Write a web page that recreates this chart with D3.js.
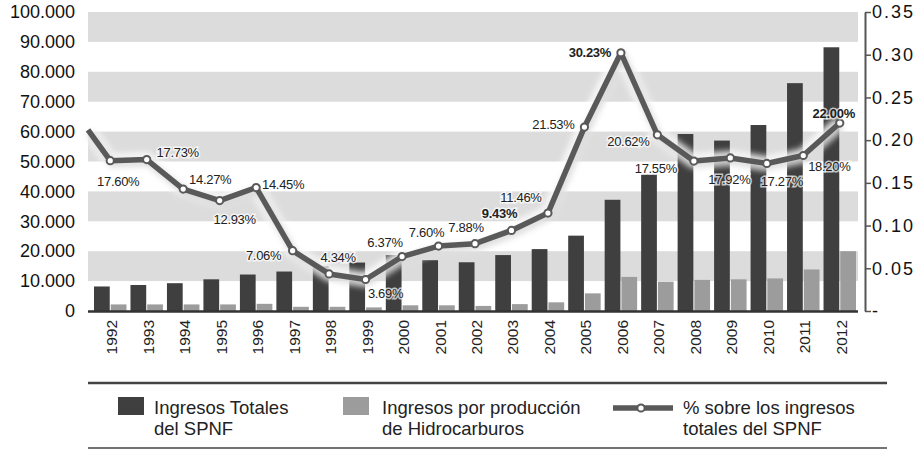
<!DOCTYPE html>
<html>
<head>
<meta charset="utf-8">
<script src="https://cdn.jsdelivr.net/npm/d3@7"></script>
<style>
  body { margin: 0; background: #fff; }
  svg { display: block; font-family: "Liberation Sans", Arial, sans-serif; }
  .lbl { font-size: 13px; fill: #222; paint-order: stroke; stroke: #fff; stroke-width: 3px; stroke-opacity: 0.7; letter-spacing: -0.3px; }
  .lbl.b { font-weight: bold; }
</style>
</head>
<body>
<div id="chart"></div>
<script>
// data
var years = ["1992","1993","1994","1995","1996","1997","1998","1999","2000","2001","2002",
             "2003","2004","2005","2006","2007","2008","2009","2010","2011","2012"];
var ingresosTotales = [8200, 8700, 9300, 10600, 12200, 13200, 15000, 16200, 18700, 17000, 16300,
                       18700, 20700, 25200, 37200, 45600, 59200, 57000, 62200, 76200, 88200];
var ingresosHidro = [2200, 2200, 2200, 2200, 2400, 1400, 1400, 1200, 1900, 1900, 1700,
                     2300, 2900, 5900, 11400, 9800, 10400, 10600, 10900, 13900, 20000];
var pctSobreTotal = [0.1760, 0.1773, 0.1427, 0.1293, 0.1445, 0.0706, 0.0434, 0.0369, 0.0637, 0.0760, 0.0788,
                     0.0943, 0.1146, 0.2153, 0.3023, 0.2062, 0.1755, 0.1792, 0.1727, 0.1820, 0.2200];
var pctLead = 0.212; // line coming in from the left edge, cut by the plot
var boldLabels = ["1999x", "2003", "2006", "2012"];
var leftTicks = [0, 10000, 20000, 30000, 40000, 50000, 60000, 70000, 80000, 90000, 100000];
var rightTicks = [0, 0.05, 0.10, 0.15, 0.20, 0.25, 0.30, 0.35];
var legendItems = [
  {kind: "bar", color: "#3f3f3f", lines: ["Ingresos Totales", "del SPNF"]},
  {kind: "bar", color: "#9c9c9c", lines: ["Ingresos por producción", "de Hidrocarburos"]},
  {kind: "line", color: "#595959", lines: ["% sobre los ingresos", "totales del SPNF"]}
];

// label offsets from each point (layout only)
var labelOffsets = [[8,21],[31,-7],[27,-10],[15,19],[27,-3],[-29,5],[9,-16],[20,14],[-17,-14],[-12,-14],[-9,-16],
                    [-12,-17],[-27,-16],[-31,-3],[-31,0],[-29,7],[-38,7],[-1,22],[15,18],[26,11],[-6,-10]];

var width = 917, height = 449;
var plot = {left: 88, right: 858, top: 12, bottom: 311};

var svg = d3.select("#chart").append("svg")
    .attr("width", width)
    .attr("height", height);

var defs = svg.append("defs");
var glow = defs.append("filter").attr("id", "glow")
    .attr("x", "-10%").attr("y", "-20%").attr("width", "120%").attr("height", "140%");
glow.append("feGaussianBlur").attr("stdDeviation", 3);

// scales
var x = d3.scaleBand().domain(years).range([92, 858]);
var x1 = d3.scaleBand().domain(["tot", "hid"]).range([2, x.bandwidth() - 2]).paddingInner(0.06);
var y = d3.scaleLinear().domain([0, 100000]).range([plot.bottom, plot.top]);
var yR = d3.scaleLinear().domain([0, 0.35]).range([plot.bottom, plot.top]);
function cx(d) { return x(d) + x.bandwidth() / 2; }

var es = d3.formatLocale({decimal: ",", thousands: ".", grouping: [3], currency: ["", ""]});

// grey bands
var bands = d3.range(10000, 100000, 20000);
svg.append("g").selectAll("rect")
  .data(bands)
  .enter().append("rect")
    .attr("x", plot.left)
    .attr("width", plot.right - plot.left)
    .attr("y", function(d) { return y(d + 10000); })
    .attr("height", function(d) { return y(d) - y(d + 10000); })
    .attr("fill", "#dcdcdc");

// bars
var groups = svg.append("g").selectAll("g")
  .data(years)
  .enter().append("g")
    .attr("transform", function(d) { return "translate(" + x(d) + ",0)"; });
groups.append("rect")
    .attr("x", x1("tot"))
    .attr("width", x1.bandwidth())
    .attr("y", function(d, i) { return y(ingresosTotales[i]); })
    .attr("height", function(d, i) { return y(0) - y(ingresosTotales[i]); })
    .attr("fill", "#3f3f3f");
groups.append("rect")
    .attr("x", x1("hid"))
    .attr("width", x1.bandwidth())
    .attr("y", function(d, i) { return y(ingresosHidro[i]); })
    .attr("height", function(d, i) { return y(0) - y(ingresosHidro[i]); })
    .attr("fill", "#9c9c9c");

// baseline
svg.append("line")
    .attr("x1", plot.left).attr("x2", plot.right)
    .attr("y1", plot.bottom + 0.5).attr("y2", plot.bottom + 0.5)
    .attr("stroke", "#333").attr("stroke-width", 2.5);

// left axis, text only
var yAxis = svg.append("g")
    .attr("transform", "translate(75,0)")
    .call(d3.axisLeft(y).tickValues(leftTicks).tickSize(0).tickPadding(0)
      .tickFormat(function(d) { return es.format(",")(d); }));
yAxis.select(".domain").remove();
yAxis.selectAll("text")
    .attr("font-size", "18px").attr("fill", "#111")
    .attr("font-family", "Liberation Sans, Arial, sans-serif");

// right axis
var yRAxis = svg.append("g")
    .attr("transform", "translate(865,0)")
    .call(d3.axisRight(yR).tickValues(rightTicks).tickSize(6).tickSizeOuter(0).tickPadding(1)
      .tickFormat(function(d) { return d === 0 ? "-" : d3.format(".2f")(d); }));
yRAxis.select(".domain").attr("stroke", "#555").attr("stroke-width", 2);
yRAxis.selectAll(".tick line").attr("stroke", "#555").attr("stroke-width", 1.5);
yRAxis.selectAll("text")
    .attr("font-size", "18px").attr("fill", "#111")
    .attr("letter-spacing", "2px")
    .attr("font-family", "Liberation Sans, Arial, sans-serif");

// year labels
svg.append("g").selectAll("text")
  .data(years)
  .enter().append("text")
    .attr("transform", function(d) { return "translate(" + (cx(d) + 7) + ",320) rotate(-90)"; })
    .attr("text-anchor", "end")
    .attr("font-size", "15.5px")
    .attr("fill", "#222")
    .text(function(d) { return d; });

// line
var pts = years.map(function(d, i) { return [cx(d), yR(pctSobreTotal[i])]; });
var linePts = [[plot.left, yR(pctLead)]].concat(pts);
var line = d3.line();

svg.append("path")
    .attr("d", line(linePts))
    .attr("fill", "none")
    .attr("stroke", "#fff")
    .attr("stroke-width", 14)
    .attr("stroke-linejoin", "round")
    .attr("opacity", 0.9)
    .attr("filter", "url(#glow)");
svg.append("path")
    .attr("d", line(linePts.map(function(p) { return [p[0] + 2, p[1] + 3]; })))
    .attr("fill", "none")
    .attr("stroke", "#888")
    .attr("stroke-width", 6)
    .attr("opacity", 0.35)
    .attr("filter", "url(#glow)");
svg.append("path")
    .attr("d", line(linePts))
    .attr("fill", "none")
    .attr("stroke", "#595959")
    .attr("stroke-width", 5.5)
    .attr("stroke-linejoin", "round");
svg.append("g").selectAll("circle")
  .data(pts)
  .enter().append("circle")
    .attr("cx", function(p) { return p[0]; })
    .attr("cy", function(p) { return p[1]; })
    .attr("r", 3.6)
    .attr("fill", "#fff")
    .attr("stroke", "#595959")
    .attr("stroke-width", 2);

// value labels
svg.append("g").selectAll("text")
  .data(years)
  .enter().append("text")
    .attr("class", function(d) { return boldLabels.indexOf(d) >= 0 ? "lbl b" : "lbl"; })
    .attr("x", function(d, i) { return pts[i][0] + labelOffsets[i][0]; })
    .attr("y", function(d, i) { return pts[i][1] + labelOffsets[i][1]; })
    .attr("dy", "0.35em")
    .attr("text-anchor", "middle")
    .text(function(d, i) { return d3.format(".2%")(pctSobreTotal[i]); });

// legend
var legend = svg.append("g");
legend.append("line")
    .attr("x1", 88).attr("x2", 887).attr("y1", 383).attr("y2", 383)
    .attr("stroke", "#444").attr("stroke-width", 2.5);
legend.append("line")
    .attr("x1", 88).attr("x2", 887).attr("y1", 448).attr("y2", 448)
    .attr("stroke", "#444").attr("stroke-width", 1.5);

var legendX = [118, 343, 613];
var legendTextX = [154, 382, 683];
legendItems.forEach(function(it, i) {
  if (it.kind === "bar") {
    legend.append("rect")
        .attr("x", legendX[i]).attr("y", 397)
        .attr("width", 26).attr("height", 18)
        .attr("fill", it.color);
  } else {
    legend.append("line")
        .attr("x1", legendX[i]).attr("x2", legendX[i] + 60)
        .attr("y1", 408).attr("y2", 408)
        .attr("stroke", it.color).attr("stroke-width", 5.5);
    legend.append("circle")
        .attr("cx", legendX[i] + 28).attr("cy", 408).attr("r", 3.6)
        .attr("fill", "#fff").attr("stroke", it.color).attr("stroke-width", 2);
  }
  it.lines.forEach(function(t, j) {
    legend.append("text")
        .attr("x", legendTextX[i])
        .attr("y", 414 + j * 21)
        .attr("font-size", "18.5px")
        .attr("fill", "#222")
        .text(t);
  });
});
</script>
</body>
</html>
